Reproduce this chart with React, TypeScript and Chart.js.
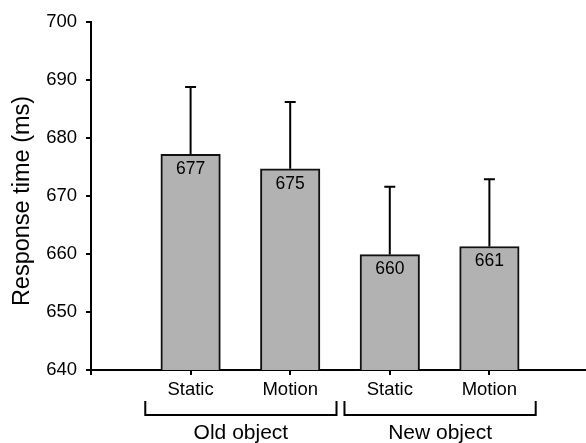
import React, { useEffect, useRef } from 'react';
import { Chart, registerables } from 'chart.js';

Chart.register(...registerables);

const conditions = ['Static', 'Motion', 'Static', 'Motion'];
const groups = ['Old object', 'New object'];
const groupMembers = [[0, 1], [2, 3]];
const meanRT = [677.2, 674.7, 659.9, 661.3];
const errorRT = [11.6, 11.5, 11.7, 11.6];
const yMin = 640;
const yMax = 700;
const yStep = 10;
const yTitle = 'Response time (ms)';

const FONT = '"Liberation Sans", Arial, Helvetica, sans-serif';

const overlay = {
  id: 'overlay',
  afterDatasetsDraw(chart: any) {
    const ctx = chart.ctx;
    const y = chart.scales.y;
    const meta = chart.getDatasetMeta(0);
    ctx.save();
    meta.data.forEach((bar: any, i: number) => {
      const px = bar.x;
      const top = y.getPixelForValue(meanRT[i]);
      const end = y.getPixelForValue(meanRT[i] + errorRT[i]);
      ctx.strokeStyle = '#000';
      ctx.lineWidth = 2;
      ctx.beginPath();
      ctx.moveTo(px, top);
      ctx.lineTo(px, end);
      ctx.moveTo(px - 5.5, end);
      ctx.lineTo(px + 5.5, end);
      ctx.stroke();
      ctx.fillStyle = '#000';
      ctx.font = '17.5px ' + FONT;
      ctx.textAlign = 'center';
      ctx.textBaseline = 'middle';
      ctx.fillText(String(Math.round(meanRT[i])), px, top + 15);
    });
    ctx.restore();
  },
  afterDraw(chart: any) {
    const ctx = chart.ctx;
    const x = chart.scales.x;
    const y = chart.scales.y;
    ctx.save();
    ctx.strokeStyle = '#000';
    ctx.lineWidth = 2;
    groupMembers.forEach((members, g) => {
      const l = x.getPixelForValue(members[0] + 1 - 0.455);
      const r = x.getPixelForValue(members[members.length - 1] + 1 + 0.465);
      const yb = 415;
      const yt = 401;
      ctx.beginPath();
      ctx.moveTo(l, yt);
      ctx.lineTo(l, yb);
      ctx.lineTo(r, yb);
      ctx.lineTo(r, yt);
      ctx.stroke();
      ctx.fillStyle = '#000';
      ctx.font = '21px ' + FONT;
      ctx.textAlign = 'center';
      ctx.textBaseline = 'alphabetic';
      ctx.fillText(groups[g], (l + r) / 2, 439);
    });
    ctx.translate(23, (y.top + y.bottom) / 2 + 5);
    ctx.rotate(-Math.PI / 2);
    ctx.font = '23.5px ' + FONT;
    ctx.textAlign = 'center';
    ctx.textBaseline = 'middle';
    ctx.fillStyle = '#000';
    ctx.fillText(yTitle, 0, 0);
    ctx.restore();
  },
};

export default function App() {
  const ref = useRef<HTMLCanvasElement | null>(null);
  useEffect(() => {
    document.body.style.margin = '0';
    const canvas = ref.current;
    if (!canvas) return;
    const chart = new Chart(canvas, {
      type: 'bar',
      data: {
        datasets: [
          {
            data: meanRT.map((v, i) => ({ x: i + 1, y: v })),
            backgroundColor: '#b2b2b2',
            borderColor: '#111',
            borderWidth: 2,
            borderSkipped: false,
            barThickness: 59.5,
          } as any,
        ],
      },
      options: {
        responsive: false,
        maintainAspectRatio: false,
        animation: false,
        devicePixelRatio: 1,
        layout: { padding: { top: 22, left: 0, right: 0, bottom: 0 } },
        plugins: { legend: { display: false }, tooltip: { enabled: false } },
        scales: {
          x: {
            type: 'linear',
            min: 0,
            max: 4.97,
            offset: false,
            afterBuildTicks: (s: any) => {
              s.ticks = [0, 1, 2, 3, 4].map((v) => ({ value: v }));
            },
            afterFit: (s: any) => {
              s.height = 73;
            },
            grid: {
              offset: false,
              drawOnChartArea: false,
              drawTicks: true,
              tickLength: 5,
              color: '#000',
              lineWidth: 2,
            },
            border: { display: true, color: '#000', width: 2 },
            ticks: {
              autoSkip: false,
              maxRotation: 0,
              padding: 4,
              color: '#000',
              font: { family: FONT, size: 18.5 },
              callback: (v: any) => conditions[Number(v) - 1] ?? '',
            },
          },
          y: {
            min: yMin,
            max: yMax,
            afterFit: (s: any) => {
              s.width = 91;
            },
            grid: {
              drawOnChartArea: false,
              drawTicks: true,
              tickLength: 5,
              color: '#000',
              lineWidth: 2,
            },
            border: { display: true, color: '#000', width: 2 },
            ticks: {
              stepSize: yStep,
              padding: 9,
              color: '#000',
              font: { family: FONT, size: 18.5 },
            },
          },
        },
      },
      plugins: [overlay],
    });
    return () => chart.destroy();
  }, []);
  return (
    <div style={{ position: 'fixed', left: 0, top: 0, width: 586, height: 443, background: '#fff' }}>
      <canvas ref={ref} width={586} height={443} />
    </div>
  );
}
